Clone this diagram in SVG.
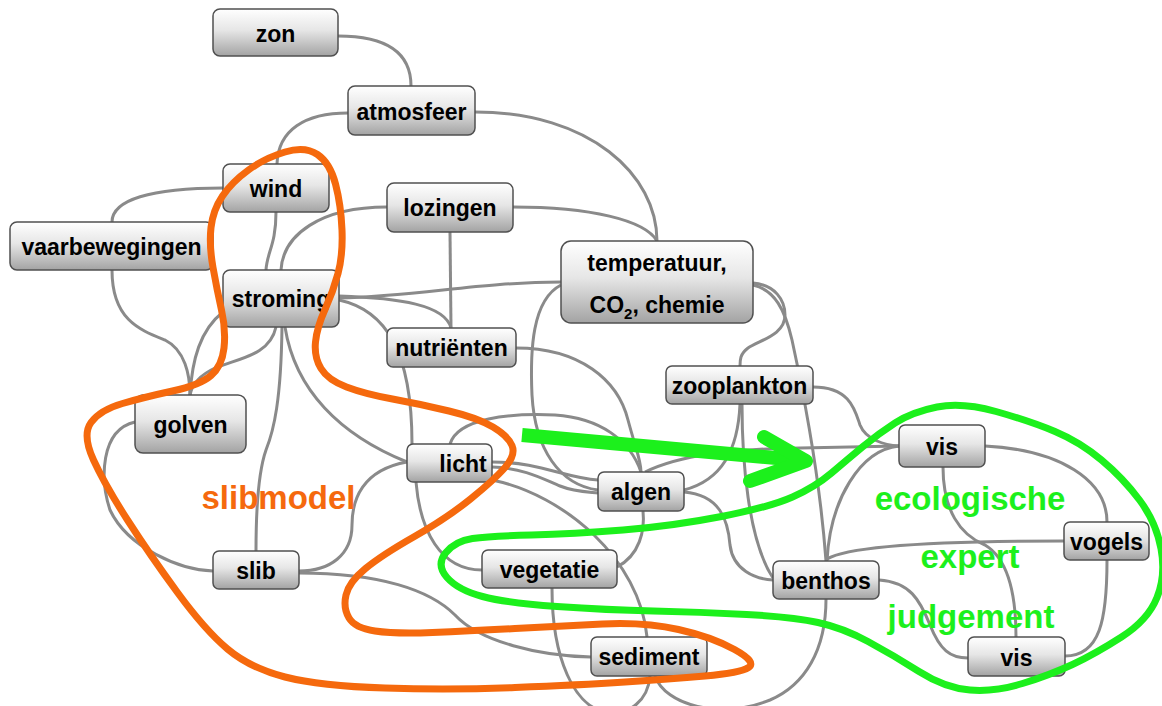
<svg xmlns="http://www.w3.org/2000/svg" width="1162" height="706" viewBox="0 0 1162 706">
<defs>
<linearGradient id="ng" x1="0" y1="0" x2="0" y2="1">
<stop offset="0" stop-color="#ffffff"/>
<stop offset="0.45" stop-color="#e6e6e6"/>
<stop offset="1" stop-color="#a3a3a3"/>
</linearGradient>
<style>
.n rect{fill:url(#ng);stroke:#505050;stroke-width:1.5}
.n text{font-family:"Liberation Sans",Arial,sans-serif;font-weight:bold;font-size:23px;fill:#000;text-anchor:middle}
#connectors path{fill:none;stroke:#8a8a8a;stroke-width:3}
.big{font-family:"Liberation Sans",Arial,sans-serif;font-weight:bold;font-size:33px;text-anchor:middle}
.orange{fill:none;stroke:#f5690d;stroke-width:7}
.green{fill:none;stroke:#1cf01c;stroke-width:7}
</style>
</defs>
<rect width="1162" height="706" fill="#ffffff"/>
<g id="connectors">
<path d="M338,36 C390,36 411,55 411,86"/>
<path d="M348,113 C305,113 278,130 277,164"/>
<path d="M475,112 C590,112 657,175 657,241"/>
<path d="M513,207 C590,207 645,220 657,241"/>
<path d="M387,207 C320,207 283,235 281,270"/>
<path d="M276,212 C276,245 267,252 266,270"/>
<path d="M223,188 C150,188 112,200 112,222"/>
<path d="M112,270 C112,320 140,330 165,340 C185,350 190,375 190,395"/>
<path d="M223,312 C200,330 192,360 190,395"/>
<path d="M276,327 C270,355 240,358 215,368 C200,375 192,385 190,395"/>
<path d="M135,422 C100,430 100,480 110,510 C128,548 180,570 213,571"/>
<path d="M282,327 C281,400 274,430 266,450 C259,470 256,500 256,551"/>
<path d="M285,327 C295,390 340,435 407,462"/>
<path d="M339,300 C385,310 412,350 412,444"/>
<path d="M339,298 C420,296 480,282 561,282"/>
<path d="M339,296 C400,298 445,305 451,328"/>
<path d="M450,232 L451,328"/>
<path d="M516,348 C580,348 618,380 628,420 C636,450 641,460 641,472"/>
<path d="M561,285 C532,300 530,350 532,395 C535,450 560,485 598,490"/>
<path d="M450,444 C458,418 510,413 555,415 C600,418 630,440 641,472"/>
<path d="M492,462 C540,462 565,478 598,480"/>
<path d="M492,467 C525,468 545,480 560,486 C575,492 590,492 598,493"/>
<path d="M492,480 C565,495 640,560 647,637"/>
<path d="M407,462 C362,470 352,500 352,525 C352,555 330,571 299,571"/>
<path d="M416,482 C420,530 440,570 482,570"/>
<path d="M299,573 C380,573 430,590 455,615 C480,642 540,656 591,657"/>
<path d="M617,567 C640,555 645,530 643,511"/>
<path d="M552,588 C552,660 575,706 605,712 C630,716 648,700 650,676"/>
<path d="M826,599 C826,650 805,685 770,700 C720,720 665,705 655,676"/>
<path d="M684,490 C722,480 738,450 740,404"/>
<path d="M684,492 C720,495 728,520 730,545 C733,570 755,579 773,580"/>
<path d="M742,404 C742,460 748,540 773,578"/>
<path d="M645,472 C680,455 730,449 800,448 L899,446"/>
<path d="M813,387 C850,387 855,410 860,425 C866,440 885,445 899,446"/>
<path d="M753,283 C775,285 785,300 785,315 C785,335 760,340 748,348 C740,354 740,360 740,366"/>
<path d="M753,285 C775,290 785,310 792,340 C805,400 820,480 826,561"/>
<path d="M827,561 C830,500 860,450 899,446"/>
<path d="M827,559 C850,545 950,541 1064,541"/>
<path d="M879,580 C910,582 920,600 930,625 C940,650 950,658 968,658"/>
<path d="M943,467 C943,510 960,535 985,545 C1010,560 1016,600 1016,637"/>
<path d="M985,446 C1060,450 1107,480 1107,522"/>
<path d="M1107,560 C1107,620 1100,656 1065,656"/>
</g>
<g id="n-zon" class="n"><rect x="213" y="9" width="125" height="47" rx="7"/><text x="275.5" y="42">zon</text></g>
<g id="n-atmosfeer" class="n"><rect x="348" y="86" width="127" height="49" rx="7"/><text x="411.5" y="120">atmosfeer</text></g>
<g id="n-wind" class="n"><rect x="223" y="164" width="106" height="48" rx="7"/><text x="276" y="197">wind</text></g>
<g id="n-vaarbewegingen" class="n"><rect x="10" y="222" width="203" height="48" rx="7"/><text x="111.5" y="255">vaarbewegingen</text></g>
<g id="n-stroming" class="n"><rect x="223" y="270" width="116" height="57" rx="7"/><text x="281" y="307">stroming</text></g>
<g id="n-lozingen" class="n"><rect x="387" y="183" width="126" height="49" rx="7"/><text x="450" y="216">lozingen</text></g>
<g id="n-temperatuur" class="n"><rect x="561" y="241" width="192" height="82" rx="10"/><text x="657" y="271">temperatuur,</text><text x="657" y="313">CO<tspan font-size="15" dy="6">2</tspan><tspan dy="-6">, chemie</tspan></text></g>
<g id="n-nutrienten" class="n"><rect x="387" y="328" width="129" height="39" rx="6"/><text x="451.5" y="356">nutriënten</text></g>
<g id="n-zooplankton" class="n"><rect x="666" y="366" width="147" height="38" rx="6"/><text x="739.5" y="394">zooplankton</text></g>
<g id="n-golven" class="n"><rect x="135" y="395" width="111" height="58" rx="8"/><text x="190.5" y="433">golven</text></g>
<g id="n-licht" class="n"><rect x="407" y="444" width="85" height="38" rx="6"/><text x="463" y="472">licht</text></g>
<g id="n-slib" class="n"><rect x="213" y="551" width="86" height="38" rx="6"/><text x="256" y="579">slib</text></g>
<g id="n-algen" class="n"><rect x="598" y="472" width="86" height="39" rx="6"/><text x="641" y="500">algen</text></g>
<g id="n-vegetatie" class="n"><rect x="482" y="550" width="135" height="38" rx="6"/><text x="549.5" y="578">vegetatie</text></g>
<g id="n-sediment" class="n"><rect x="591" y="637" width="116" height="39" rx="6"/><text x="649" y="665">sediment</text></g>
<g id="n-vis1" class="n"><rect x="899" y="425" width="86" height="42" rx="6"/><text x="942" y="455">vis</text></g>
<g id="n-vogels" class="n"><rect x="1064" y="522" width="85" height="38" rx="6"/><text x="1106.5" y="550">vogels</text></g>
<g id="n-benthos" class="n"><rect x="773" y="561" width="106" height="38" rx="6"/><text x="826" y="589">benthos</text></g>
<g id="n-vis2" class="n"><rect x="968" y="637" width="97" height="39" rx="6"/><text x="1016.5" y="666">vis</text></g>
<g id="overlays">
<path class="orange" d="M285,152 Q305,146 317.5,154.5 Q330,163 335.5,184 Q341,205 342,230 Q343,255 338,273.5 Q333,292 325,309.5 Q317,327 315.5,342 Q314,357 321,368.5 Q328,380 346.5,387 Q365,394 392.5,399 Q420,404 449,411 Q478,418 493,427 Q508,436 512,445.5 Q516,455 505,467.5 Q494,480 470.5,499 Q447,518 414.5,536.5 Q382,555 365.5,568.5 Q349,582 346,595 Q343,608 349,618 Q355,628 375,631 Q395,634 432.5,632.5 Q470,631 515,628.5 Q560,626 602.5,624 Q645,622 678.5,629.5 Q712,637 734.5,649.5 Q757,662 748.5,667.5 Q740,673 705,676 Q670,679 625,682 Q580,685 515,687.5 Q450,690 385,688 Q320,686 285,677 Q250,668 227.5,649 Q205,630 177.5,592.5 Q150,555 127.5,520 Q105,485 93.5,460 Q82,435 91,422.5 Q100,410 122.5,403.5 Q145,397 172.5,391 Q200,385 211,375.5 Q222,366 224,348 Q226,330 221.5,310 Q217,290 213,267.5 Q209,245 211,227.5 Q213,210 222.5,196 Q232,182 248.5,170 Q265,158 285,152 Z"/>
<path class="green" d="M447,577.5 Q436,565 445.5,553 Q455,541 472.5,538.5 Q490,536 531.5,535 Q573,534 623,530 Q673,526 721.5,516.5 Q770,507 792.5,497 Q815,487 831.5,473 Q848,459 863,446.5 Q878,434 895,423 Q912,412 937,407 Q962,402 996,411.5 Q1030,421 1055,431.5 Q1080,442 1101.5,460 Q1123,478 1139.5,500 Q1156,522 1161,548.5 Q1166,575 1157,597.5 Q1148,620 1121.5,637 Q1095,654 1072.5,664.5 Q1050,675 1022.5,683.5 Q995,692 970,690 Q945,688 919,671.5 Q893,655 868,641.5 Q843,628 818,622.5 Q793,617 746.5,614.5 Q700,612 653.5,611 Q607,610 557,606.5 Q507,603 482.5,596.5 Q458,590 447,577.5 Z"/>
<path d="M522,435 L798,460" fill="none" stroke="#1cf01c" stroke-width="14"/>
<path d="M764,437 L806,461 L750,481" fill="none" stroke="#1cf01c" stroke-width="14" stroke-linecap="round" stroke-linejoin="round"/>
<text class="big" x="278.5" y="509" fill="#f5690d">slibmodel</text>
<text class="big" x="970" y="510" fill="#1cf01c">ecologische</text>
<text class="big" x="970" y="568" fill="#1cf01c">expert</text>
<text class="big" x="971" y="628" fill="#1cf01c">judgement</text>
</g>
</svg>
